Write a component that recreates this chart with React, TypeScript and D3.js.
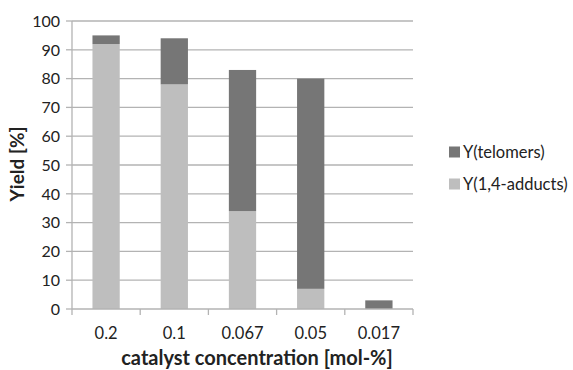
import React from "react";
import * as d3 from "d3";

const categories = ["0.2", "0.1", "0.067", "0.05", "0.017"];
const adducts = [92, 78, 34, 7, 0];
const telomers = [3, 16, 49, 73, 3];
const seriesNames = ["Y(1,4-adducts)", "Y(telomers)"];
const yTicks = [0, 10, 20, 30, 40, 50, 60, 70, 80, 90, 100];

const colors: Record<string, string> = {
  "Y(1,4-adducts)": "#bebebe",
  "Y(telomers)": "#767676",
};

export default function App() {
  const W = 573, H = 370;
  const left = 72, right = 413, top = 21, bottom = 309;
  const x = d3.scaleBand<string>().domain(categories).range([left, right]).paddingInner(0.6).paddingOuter(0.3);
  const xOuter = d3.scaleBand<string>().domain(categories).range([left, right]);
  const y = d3.scaleLinear().domain([0, 100]).range([bottom, top]);
  const rows = categories.map((c, i) => ({ cat: c, "Y(1,4-adducts)": adducts[i], "Y(telomers)": telomers[i] }));
  const stacked = d3.stack<any>().keys(seriesNames)(rows);
  const font = "Lato, 'Open Sans', sans-serif";
  const boundaries = [...categories.map((c) => xOuter(c)!), right];

  return (
    <svg width={W} height={H} style={{ position: "absolute", left: 0, top: 0 }} fontFamily={font}>
      <rect width={W} height={H} fill="#fff" />
      {yTicks.map((t) => (
        <g key={t}>
          {t > 0 && <line x1={left} x2={right} y1={y(t)} y2={y(t)} stroke="#b3b3b3" strokeWidth={1.3} />}
          <line x1={left - 6} x2={left} y1={y(t)} y2={y(t)} stroke="#b3b3b3" strokeWidth={1.3} />
          <text x={60} y={y(t)} dy="0.36em" textAnchor="end" fontSize={16} fill="#222">{t}</text>
        </g>
      ))}
      <line x1={left} x2={left} y1={top} y2={bottom} stroke="#b3b3b3" strokeWidth={1.3} />
      {stacked.map((s) => (
        <g key={s.key}>
          {s.map((d, i) =>
            d[1] - d[0] > 0 ? (
              <rect key={i} x={x(categories[i])!} width={x.bandwidth()} y={y(d[1])} height={y(d[0]) - y(d[1])}
                fill={colors[s.key]} />
            ) : null
          )}
        </g>
      ))}
      <line x1={left} x2={right} y1={bottom} y2={bottom} stroke="#b3b3b3" strokeWidth={1.3} />
      {boundaries.map((b, i) => (
        <line key={i} x1={b} x2={b} y1={bottom} y2={bottom + 6} stroke="#b3b3b3" strokeWidth={1.3} />
      ))}
      {categories.map((c) => (
        <text key={c} x={xOuter(c)! + xOuter.bandwidth() / 2} y={339} textAnchor="middle" fontSize={16.5} fill="#222">{c}</text>
      ))}
      <text x={257} y={365} textAnchor="middle" fontSize={20} fontWeight="bold" fill="#222">
        catalyst concentration [mol-%]
      </text>
      <text transform={`translate(24,${164}) rotate(-90)`} textAnchor="middle" fontSize={19} fontWeight="bold" fill="#222">
        Yield [%]
      </text>
      {["Y(telomers)", "Y(1,4-adducts)"].map((k, i) => (
        <g key={k} transform={`translate(449,${152 + i * 32})`}>
          <rect x={0} y={-5.5} width={11} height={11} fill={colors[k]} />
          <text x={14} y={0} dy="0.36em" fontSize={16.5} fill="#222">{k}</text>
        </g>
      ))}
    </svg>
  );
}
